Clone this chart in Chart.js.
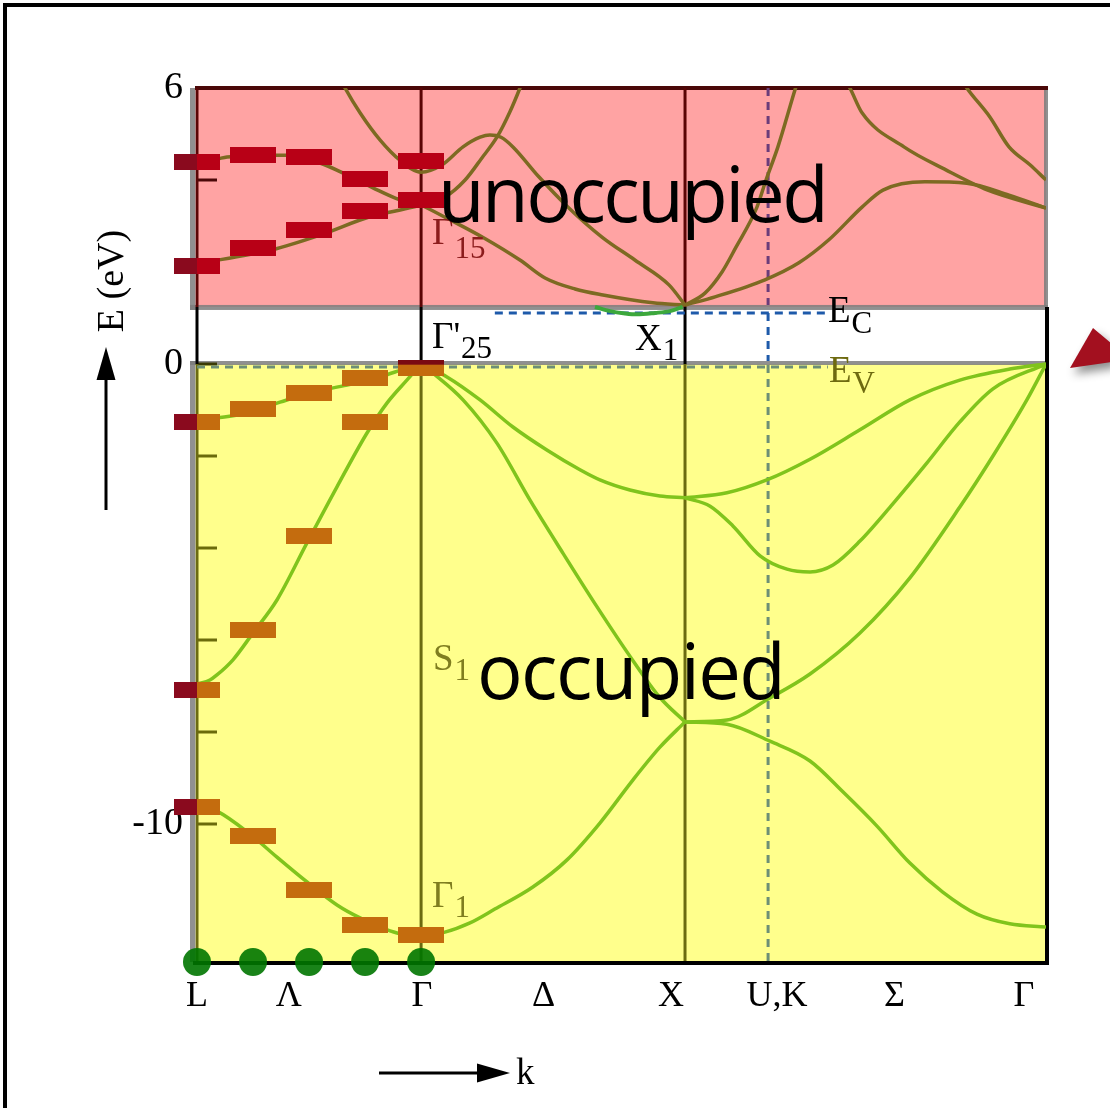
<!DOCTYPE html>
<html>
<head>
<meta charset="utf-8">
<script src="https://cdn.jsdelivr.net/npm/chart.js@4/dist/chart.umd.min.js"></script>
<style>
  html, body { margin: 0; padding: 0; background: #fff; }
  canvas { display: block; }
</style>
</head>
<body>
<canvas id="bands" width="1110" height="1108"></canvas>
<script>
// Band structure of silicon along L – Γ – X – U,K – Γ (energies in eV, k in units of 2π/a)

const kRange = [0, 3.281];
const eRange = [-13, 6];

// symmetry points on the k path
const kGamma = 0.866;
const kX = 1.886;
const kUK = 2.207;

// axis labels
const kTickPos = [0, 0.355, 0.869, 1.339, 1.832, 2.241, 2.695, 3.196];
const kTickLabels = ['L', 'Λ', 'Γ', 'Δ', 'X', 'U,K', 'Σ', 'Γ'];
const eTickLabelValues = [6, 0, -10];
const eTickMarks = [4, 2, 0, -2, -4, -6, -8, -10];

// band edges
const eCondRegion = 1.24;   // lower edge of the unoccupied region
const eC = 1.11;            // conduction band minimum
const eV = 0;               // valence band maximum

// ---- valence bands ([k, E]) ----
const valLG1 = [[0,-9.59],[0.077,-9.72],[0.205,-10.22],[0.309,-10.72],[0.425,-11.26],[0.541,-11.76],[0.630,-12.04],[0.773,-12.37],[0.866,-12.43]];
const valLG2 = [[0,-6.96],[0.05,-6.87],[0.077,-6.76],[0.139,-6.43],[0.216,-5.85],[0.309,-5.13],[0.425,-3.89],[0.541,-2.67],[0.657,-1.50],[0.734,-0.85],[0.811,-0.35],[0.866,0]];
const valLG3 = [[0,-1.22],[0.077,-1.17],[0.193,-1.07],[0.321,-0.83],[0.448,-0.61],[0.580,-0.46],[0.707,-0.28],[0.811,-0.09],[0.866,0]];
const valGX1 = [[0.866,0],[0.966,-0.28],[1.094,-0.78],[1.221,-1.37],[1.352,-1.87],[1.480,-2.30],[1.557,-2.52],[1.673,-2.74],[1.789,-2.87],[1.886,-2.91]];
const valGX2 = [[0.866,0],[0.912,-0.20],[1.028,-0.78],[1.159,-1.72],[1.287,-2.96],[1.414,-4.11],[1.546,-5.28],[1.685,-6.45],[1.789,-7.25],[1.886,-7.78]];
const valGX3 = [[0.866,-12.43],[0.958,-12.35],[1.055,-12.15],[1.151,-11.85],[1.298,-11.37],[1.430,-10.78],[1.557,-9.98],[1.685,-9.04],[1.789,-8.33],[1.886,-7.78]];
const valXG1 = [[1.886,-2.91],[2.048,-2.80],[2.202,-2.52],[2.369,-2.07],[2.562,-1.43],[2.755,-0.78],[2.948,-0.35],[3.141,-0.11],[3.281,0]];
const valXG2 = [[1.886,-2.91],[1.983,-3.09],[2.071,-3.52],[2.176,-4.17],[2.280,-4.46],[2.369,-4.52],[2.458,-4.37],[2.562,-3.85],[2.689,-3.04],[2.821,-2.15],[2.948,-1.26],[3.076,-0.54],[3.281,0]];
const valXG3 = [[1.886,-7.78],[2.048,-7.74],[2.214,-7.26],[2.369,-6.74],[2.562,-5.85],[2.755,-4.65],[2.948,-3.11],[3.076,-2.00],[3.207,-0.78],[3.281,0]];
const valXG4 = [[1.886,-7.78],[2.048,-7.83],[2.214,-8.20],[2.369,-8.63],[2.496,-9.30],[2.627,-10.04],[2.755,-10.85],[2.882,-11.48],[3.014,-11.96],[3.141,-12.17],[3.281,-12.24]];

// ---- conduction bands ([k, E]) ----
const condLG1 = [[0,2.20],[0.081,2.26],[0.290,2.48],[0.475,2.80],[0.668,3.20],[0.835,3.41],[0.866,3.46]];
const condLG2 = [[0,4.37],[0.081,4.46],[0.116,4.50],[0.290,4.54],[0.348,4.54],[0.475,4.37],[0.580,4.11],[0.680,3.83],[0.784,3.57],[0.866,3.46]];
const condG2 = [[0.545,6.3],[0.572,6.0],[0.630,5.46],[0.707,4.87],[0.784,4.43],[0.866,4.17],[0.947,4.33],[1.028,4.72],[1.094,4.93],[1.132,4.98],[1.175,4.93],[1.221,4.72],[1.321,4.07],[1.434,3.41],[1.565,2.76],[1.692,2.26],[1.824,1.72],[1.886,1.28]];
const condGX2 = [[0.866,3.46],[0.958,3.63],[1.036,4.00],[1.101,4.48],[1.159,4.93],[1.209,5.48],[1.248,6.0],[1.271,6.35]];
const condGX3 = [[0.866,3.46],[0.966,3.17],[1.109,2.74],[1.248,2.26],[1.345,1.87],[1.461,1.63],[1.569,1.50],[1.762,1.33],[1.886,1.28]];
const condXmin = [[1.538,1.24],[1.596,1.15],[1.654,1.10],[1.700,1.08],[1.770,1.11],[1.828,1.15],[1.877,1.24]];
const condXG1 = [[1.886,1.28],[2.002,1.46],[2.195,1.83],[2.326,2.20],[2.442,2.70],[2.570,3.41],[2.651,3.78],[2.813,3.96],[2.975,3.93],[3.138,3.67],[3.281,3.39]];
const condXG2 = [[1.886,1.28],[1.963,1.54],[2.029,2.00],[2.083,2.54],[2.164,3.41],[2.199,4.00],[2.245,4.72],[2.311,5.96],[2.330,6.30]];
const condXG3 = [[2.504,6.17],[2.523,6.0],[2.570,5.46],[2.732,4.72],[2.894,4.22],[3.056,3.78],[3.281,3.39]];
const condXG4 = [[2.956,6.17],[2.975,6.0],[3.064,5.37],[3.138,4.72],[3.219,4.33],[3.281,4.00]];

// ---- discrete levels between L and Γ ----
const levelK = [0, 0.2165, 0.433, 0.6495, 0.866];
const condLevelUpper = [4.40, 4.55, 4.49, 4.02, 4.41];
const condLevelLower = [2.12, 2.53, 2.92, 3.33, 3.57];
const valLevelTop = [-1.25, -0.98, -0.62, -0.31, -0.08];
const valLevelMid = [-7.09, -5.79, -3.73, -1.25];
const valLevelLow = [-9.63, -10.27, -11.43, -12.20, -12.42];
const sampleK = [0, 0.2165, 0.433, 0.6495, 0.866];
const sampleE = [-13, -13, -13, -13, -13];

const COND = '#7d6a22';
const VAL = '#80c41c';
const RED = '#b80016';
const ORANGE = '#c46c0e';
const MAROON = '#8a0a1e';

function levelTile(fill, accent, mode) {
  const c = document.createElement('canvas');
  c.width = 46; c.height = 16;
  const g = c.getContext('2d');
  g.fillStyle = fill; g.fillRect(0, 0, 46, 16);
  if (mode === 'left') { g.fillStyle = accent; g.fillRect(0, 0, 23, 16); }
  if (mode === 'top') { g.fillStyle = accent; g.fillRect(0, 0, 46, 5); }
  return c;
}
const tileRed = levelTile(RED);
const tileRedL = levelTile(RED, MAROON, 'left');
const tileOr = levelTile(ORANGE);
const tileOrL = levelTile(ORANGE, MAROON, 'left');
const tileOrTop = levelTile(ORANGE, '#7a0a12', 'top');

const toXY = arr => arr.map(p => ({ x: p[0], y: p[1] }));
const levels = (ks, es) => es.map((e, i) => ({ x: ks[i], y: e }));

function curve(data, color, width) {
  return { data: toXY(data), borderColor: color, borderWidth: width || 3.5, pointRadius: 0,
           cubicInterpolationMode: 'monotone', fill: false, order: 10 };
}
function levelSet(data, tileFor) {
  return { data, showLine: false, clip: false, pointRadius: 8, pointStyle: c => tileFor(c.dataIndex),
           order: 2 };
}

function seg(ctx, x1, y1, x2, y2, color, w, dash) {
  ctx.save();
  ctx.strokeStyle = color; ctx.lineWidth = w; ctx.setLineDash(dash || []);
  ctx.beginPath(); ctx.moveTo(x1, y1); ctx.lineTo(x2, y2); ctx.stroke();
  ctx.restore();
}
function labelSub(ctx, main, sub, x, yBase, color, size, subSize, drop) {
  ctx.save();
  ctx.fillStyle = color;
  ctx.textBaseline = 'alphabetic'; ctx.textAlign = 'left';
  ctx.font = size + 'px "Liberation Serif"';
  ctx.fillText(main, x, yBase);
  const w = ctx.measureText(main).width;
  ctx.font = subSize + 'px "Liberation Serif"';
  ctx.fillText(sub, x + w + 1, yBase + drop);
  ctx.restore();
}

const regions = {
  id: 'regions',
  beforeDraw(chart) {
    const ctx = chart.ctx;
    ctx.save();
    ctx.fillStyle = '#fff'; ctx.fillRect(0, 0, chart.width, chart.height);
    ctx.strokeStyle = '#000'; ctx.lineWidth = 4;
    ctx.beginPath(); ctx.moveTo(5, chart.height + 5); ctx.lineTo(5, 5); ctx.lineTo(chart.width + 5, 5); ctx.stroke();
    ctx.restore();
  },
  beforeDatasetsDraw(chart) {
    const ctx = chart.ctx, a = chart.chartArea;
    const px = v => chart.scales.x.getPixelForValue(v);
    const py = v => chart.scales.y.getPixelForValue(v);
    const yTop = a.top, yCb = py(eCondRegion), yV = py(eV), yBot = a.bottom, yC = py(eC);
    const W = a.right - a.left;
    const gray = 'rgba(125,125,125,0.85)';
    ctx.save();
    // unoccupied and occupied regions
    ctx.fillStyle = '#ffa3a3'; ctx.fillRect(a.left, yTop, W, yCb - yTop);
    ctx.fillStyle = '#ffff8c'; ctx.fillRect(a.left, yV, W, yBot - yV);
    ctx.fillStyle = gray;
    ctx.fillRect(a.left - 7, yTop, 5, yCb - yTop + 3);
    ctx.fillRect(a.left - 7, yCb - 2, W + 9, 5);
    ctx.fillRect(a.right - 2, yTop, 4, yCb - yTop);
    ctx.fillRect(a.left - 7, yV - 3, 5, yBot - yV + 3);
    ctx.fillRect(a.left - 7, yV - 3, W + 7, 4);
    ctx.restore();
    seg(ctx, a.left - 2, yTop, a.right + 2, yTop, '#4a0808', 4);
    // inner tick marks on the energy axis
    eTickMarks.forEach(e => {
      const c = e > 0 ? '#4a0808' : (e === 0 ? '#3a3a05' : '#6b6b0b');
      seg(ctx, a.left, py(e), a.left + 20, py(e), c, 3);
    });
    // vertical lines at L, Γ and X
    [a.left, px(kGamma), px(kX)].forEach(x => {
      seg(ctx, x, yTop, x, yCb, '#5a0505', 3);
      seg(ctx, x, yCb, x, yV, '#000', 3);
      seg(ctx, x, yV, x, yBot, '#6b6b10', 3);
    });
    // right border
    seg(ctx, a.right + 1, yCb, a.right + 1, yBot + 2, '#000', 4);
    // U,K line
    const xu = px(kUK);
    seg(ctx, xu, yTop, xu, yCb - 2, '#6a3c7a', 3, [8, 6]);
    seg(ctx, xu, yC, xu, yV - 3, '#1e5aaa', 3, [8, 6]);
    seg(ctx, xu, yV + 1, xu, yBot, '#6d8f76', 3, [8, 6]);
    // band edge levels
    seg(ctx, px(1.151), yC, px(2.438), yC, '#1e5aaa', 3, [8, 6]);
    seg(ctx, a.left, yV + 3, px(2.438), yV + 3, '#6d8f76', 3, [8, 6]);
    // k axis
    seg(ctx, a.left - 4, yBot + 1, a.right + 3, yBot + 1, '#000', 4);
  },
  afterDatasetsDraw(chart) {
    const ctx = chart.ctx;
    labelSub(ctx, "Γ'", '25', 432, 348, '#000', 37, 31, 10);
    labelSub(ctx, 'X', '1', 635, 350, '#000', 37, 31, 10);
    labelSub(ctx, 'Γ', '15', 432, 244, '#8b1c1c', 37, 31, 14);
    labelSub(ctx, 'S', '1', 433, 670, '#7f7d1f', 37, 31, 10);
    labelSub(ctx, 'Γ', '1', 432, 907, '#7f7d1f', 37, 31, 10);
    labelSub(ctx, 'E', 'C', 828, 322, '#000', 37, 31, 11);
    labelSub(ctx, 'E', 'V', 829, 382, '#6e6a10', 37, 31, 11);
    ctx.save();
    ctx.fillStyle = '#000';
    ctx.font = '76px "Open Sans"';
    ctx.textBaseline = 'alphabetic';
    ctx.letterSpacing = '-2.5px';
    ctx.fillText('unoccupied', 438, 222);
    ctx.letterSpacing = '-1.6px';
    ctx.fillText('occupied', 477, 699);
    ctx.restore();
  },
  afterDraw(chart) {
    const ctx = chart.ctx;
    ctx.save();
    // energy axis title with arrow
    seg(ctx, 106, 510, 106, 376, '#000', 3);
    ctx.fillStyle = '#000';
    ctx.beginPath(); ctx.moveTo(106, 347); ctx.lineTo(96.5, 380); ctx.lineTo(115.5, 380); ctx.closePath(); ctx.fill();
    ctx.save();
    ctx.translate(113, 281); ctx.rotate(-Math.PI / 2);
    ctx.font = '38px "Liberation Serif"'; ctx.textAlign = 'center'; ctx.textBaseline = 'middle';
    ctx.fillText('E (eV)', 0, 0);
    ctx.restore();
    // k axis title with arrow
    seg(ctx, 379, 1073, 482, 1073, '#000', 3);
    ctx.beginPath(); ctx.moveTo(510, 1073); ctx.lineTo(477, 1063.5); ctx.lineTo(477, 1082.5); ctx.closePath(); ctx.fill();
    ctx.font = '37px "Liberation Serif"'; ctx.textBaseline = 'alphabetic';
    ctx.fillText('k', 516, 1084);
    // pointer at the valence band maximum
    ctx.shadowColor = 'rgba(0,0,0,0.45)'; ctx.shadowBlur = 10; ctx.shadowOffsetX = 4; ctx.shadowOffsetY = 6;
    ctx.fillStyle = '#a3101f';
    ctx.beginPath(); ctx.moveTo(1070, 368); ctx.lineTo(1093, 328); ctx.lineTo(1112, 344); ctx.lineTo(1112, 362); ctx.closePath(); ctx.fill();
    ctx.restore();
  }
};

function build() {
  const ctx = document.getElementById('bands').getContext('2d');
  new Chart(ctx, {
    type: 'line',
    data: {
      datasets: [
        { data: levels(sampleK, sampleE), showLine: false, clip: false, pointRadius: 14,
          pointBackgroundColor: 'rgba(0,118,0,0.9)', pointBorderWidth: 0, order: 0 },
        levelSet(levels(levelK, condLevelUpper), i => i === 0 ? tileRedL : tileRed),
        levelSet(levels(levelK, condLevelLower), i => i === 0 ? tileRedL : tileRed),
        levelSet(levels(levelK, valLevelTop), i => i === 0 ? tileOrL : (i === 4 ? tileOrTop : tileOr)),
        levelSet(levels(levelK, valLevelMid), i => i === 0 ? tileOrL : tileOr),
        levelSet(levels(levelK, valLevelLow), i => i === 0 ? tileOrL : tileOr),
        curve(condXmin, '#3ca83c', 4),
        curve(valLG1, VAL), curve(valLG2, VAL), curve(valLG3, VAL),
        curve(valGX1, VAL), curve(valGX2, VAL), curve(valGX3, VAL),
        curve(valXG1, VAL), curve(valXG2, VAL), curve(valXG3, VAL), curve(valXG4, VAL),
        curve(condLG1, COND), curve(condLG2, COND), curve(condG2, COND),
        curve(condGX2, COND), curve(condGX3, COND),
        curve(condXG1, COND), curve(condXG2, COND), curve(condXG3, COND), curve(condXG4, COND)
      ]
    },
    options: {
      responsive: false,
      animation: false,
      events: [],
      layout: { padding: { top: 88, right: 64, left: 0, bottom: 0 } },
      plugins: { legend: { display: false }, tooltip: { enabled: false } },
      scales: {
        x: {
          type: 'linear', min: kRange[0], max: kRange[1],
          grid: { display: false, drawTicks: false }, border: { display: false },
          afterBuildTicks: s => { s.ticks = kTickPos.map(v => ({ value: v })); },
          afterFit: s => { s.height = 146; },
          ticks: { autoSkip: false, maxRotation: 0, padding: 13, color: '#000',
                   font: { family: 'Liberation Serif', size: 36 },
                   callback: (v, i) => kTickLabels[i] }
        },
        y: {
          type: 'linear', min: eRange[0], max: eRange[1],
          grid: { display: false, drawTicks: false }, border: { display: false },
          afterBuildTicks: s => { s.ticks = eTickLabelValues.map(v => ({ value: v })); },
          afterFit: s => { s.width = 197; },
          ticks: { autoSkip: false, padding: 14, color: '#000',
                   font: { family: 'Liberation Serif', size: 38 },
                   callback: v => String(v) }
        }
      }
    },
    plugins: [regions]
  });
}

Promise.all([
  document.fonts.load('36px "Liberation Serif"'),
  document.fonts.load('76px "Open Sans"')
]).then(build, build);
</script>
</body>
</html>
